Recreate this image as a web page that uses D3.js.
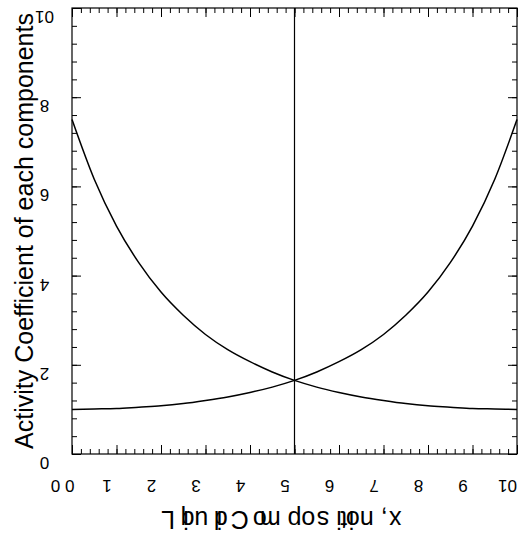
<!DOCTYPE html>
<html>
<head>
<meta charset="utf-8">
<script src="https://cdn.jsdelivr.net/npm/d3@7"></script>
<style>
    body { margin: 0; background: #fff; }
    svg { display: block; font-family: 'Liberation Sans', Arial, sans-serif; }
</style>
</head>
<body>
<div id="chart"></div>
<script>
// liquid composition (axis units) and activity coefficients
const compositions = [0, 0.5, 1, 1.5, 2, 2.5, 3, 3.5, 4, 4.5, 5, 5.5, 6, 6.5, 7, 7.5, 8, 8.5, 9, 9.5, 10];
const gammaFalling = [7.50, 6.16, 5.11, 4.29, 3.63, 3.11, 2.68, 2.34, 2.07, 1.84, 1.65, 1.50, 1.38, 1.28, 1.20, 1.13, 1.08, 1.05, 1.02, 1.01, 1.00];
const gammaRising = [1.00, 1.01, 1.02, 1.05, 1.08, 1.13, 1.20, 1.28, 1.38, 1.50, 1.65, 1.84, 2.07, 2.34, 2.68, 3.11, 3.63, 4.29, 5.11, 6.16, 7.50];
const xTicks = [0, 1, 2, 3, 4, 5, 6, 7, 8, 9, 10];
const xTickLabels = ['0 0', '1', '2', '3', '4', '5', '6', '7', '8', '9', '10'];
const yTicks = [0, 2, 4, 6, 8, 10];
const yTickLabels = ['0', '2', '4', '6', '8', '10'];
const markerX = [5];

const width = 519;
const height = 536;
const margins = { top: 8, right: 2, bottom: 82, left: 72 };
const innerW = width - margins.left - margins.right;
const innerH = height - margins.top - margins.bottom;

const svg = d3.select('#chart')
    .append('svg')
    .attr('width', width)
    .attr('height', height);

const g = svg.append('g')
    .attr('transform', `translate(${margins.left},${margins.top})`);

//scales
const x = d3.scaleLinear().domain([0, 10]).range([0, innerW]);
const y = d3.scaleLinear().domain([0, 10]).range([innerH, 0]);

const minorX = d3.range(0, 10.001, 0.2);
const minorY = d3.range(0, 10.001, 0.4);

//inward ticks on all four sides
function ticks(axisFn, scale, values, size, transform) {
    return g.append('g')
        .attr('transform', transform)
        .call(axisFn(scale).tickValues(values).tickSizeInner(-size).tickSizeOuter(0).tickFormat(''))
        .call(s => s.select('.domain').remove())
        .call(s => s.selectAll('line').attr('stroke', '#000').attr('stroke-width', 1));
}
ticks(d3.axisBottom, x, minorX, 5, `translate(0,${innerH})`);
ticks(d3.axisBottom, x, xTicks, 9, `translate(0,${innerH})`);
ticks(d3.axisTop, x, minorX, 5, 'translate(0,0)');
ticks(d3.axisTop, x, xTicks, 9, 'translate(0,0)');
ticks(d3.axisLeft, y, minorY, 5, 'translate(0,0)');
ticks(d3.axisLeft, y, yTicks, 9, 'translate(0,0)');
ticks(d3.axisRight, y, minorY, 5, `translate(${innerW},0)`);
ticks(d3.axisRight, y, yTicks, 9, `translate(${innerW},0)`);

//tick labels, each glyph turned upside down
g.append('g')
    .selectAll('text')
    .data(xTicks)
    .join('text')
    .attr('x', d => x(d))
    .attr('y', innerH + 26)
    .attr('text-anchor', 'middle')
    .attr('rotate', 180)
    .attr('font-size', 17)
    .text((d, i) => xTickLabels[i]);

g.append('g')
    .selectAll('text')
    .data(yTicks)
    .join('text')
    .attr('x', -18)
    .attr('y', d => y(d) + 3)
    .attr('text-anchor', 'middle')
    .attr('rotate', 180)
    .attr('font-size', 17)
    .text((d, i) => yTickLabels[i]);

//frame
g.append('rect')
    .attr('width', innerW)
    .attr('height', innerH)
    .attr('fill', 'none')
    .attr('stroke', '#000')
    .attr('stroke-width', 1.2);

//x = 5 marker
g.selectAll('.marker')
    .data(markerX)
    .join('line')
    .attr('class', 'marker')
    .attr('x1', d => x(d))
    .attr('x2', d => x(d))
    .attr('y1', 0)
    .attr('y2', innerH)
    .attr('stroke', '#000')
    .attr('stroke-width', 1.2);

//curves
const line = d3.line()
    .x((d, i) => x(compositions[i]))
    .y(d => y(d))
    .curve(d3.curveMonotoneX);

[gammaFalling, gammaRising].forEach(series => {
    g.append('path')
        .datum(series)
        .attr('d', line)
        .attr('fill', 'none')
        .attr('stroke', '#000')
        .attr('stroke-width', 1.5);
});

//axis titles
svg.append('text')
    .attr('transform', `translate(33,${margins.top + innerH / 2}) rotate(-90)`)
    .attr('text-anchor', 'middle')
    .attr('font-size', 25)
    .text('Activity Coefficient of each components');

svg.append('text')
    .attr('x', margins.left + innerW / 2)
    .attr('y', 511)
    .attr('text-anchor', 'middle')
    .attr('rotate', 180)
    .attr('font-size', 25)
    .text('Liquid Composition, x');
</script>
</body>
</html>
